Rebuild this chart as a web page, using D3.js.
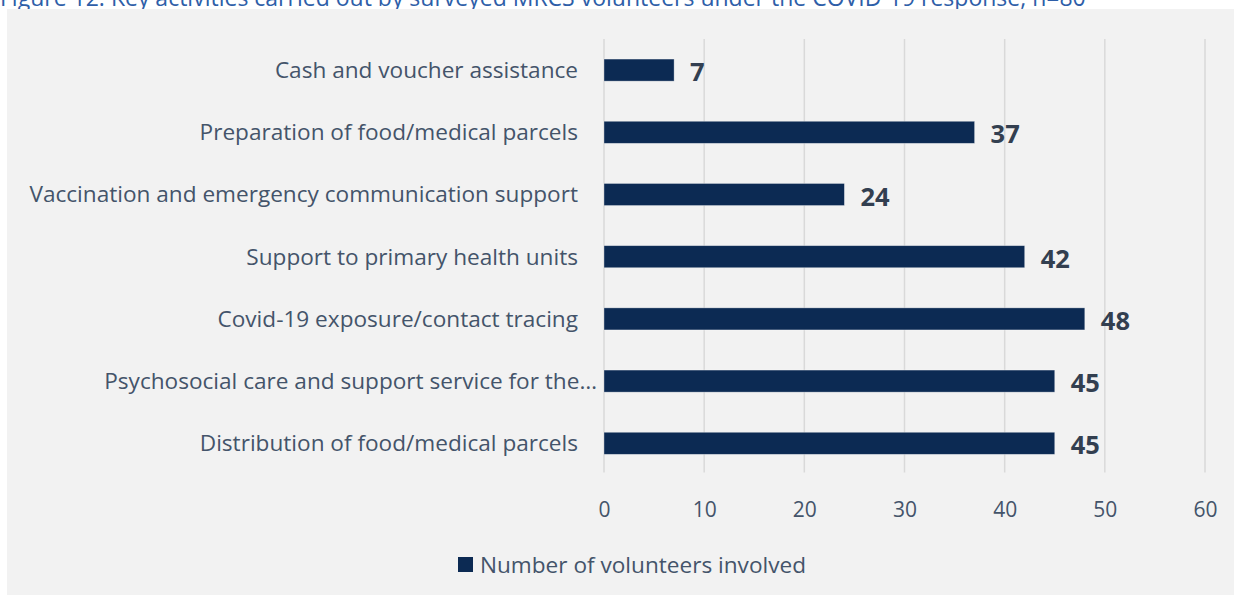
<!DOCTYPE html>
<html>
<head>
<meta charset="utf-8">
<script src="https://cdn.jsdelivr.net/npm/d3@7"></script>
<style>
  html, body { margin: 0; padding: 0; background: #ffffff; }
  svg { display: block; }
  text { font-family: "Open Sans", "Noto Sans", sans-serif; }
</style>
</head>
<body>
<svg id="chart" width="1234" height="595"></svg>
<script>
// Activities, listed top to bottom
const categories = [
  "Cash and voucher assistance",
  "Preparation of food/medical parcels",
  "Vaccination and emergency communication support",
  "Support to primary health units",
  "Covid-19 exposure/contact tracing",
  "Psychosocial care and support service for the…",
  "Distribution of food/medical parcels"
];
// Number of volunteers involved in each activity
const volunteers = [7, 37, 24, 42, 48, 45, 45];
const xTicks = [0, 10, 20, 30, 40, 50, 60];
const seriesName = "Number of volunteers involved";
const titleText = "Figure 12: Key activities carried out by surveyed MRCS volunteers under the COVID-19 response, n=80";

const W = 1234, H = 595;
const plot = { left: 604, right: 1205, top: 39, bottom: 474.4 };
const barColor = "#0c2a53";
const textColor = "#44546a";
const valueColor = "#333f50";
const gridColor = "#d9d9d9";

const svg = d3.select("#chart");

// Caption above the chart panel
svg.append("text")
  .attr("x", 0).attr("y", 6)
  .attr("fill", "#2e5ea8")
  .attr("font-size", 23)
  .text(titleText);

// Chart panel
svg.append("rect")
  .attr("x", 7).attr("y", 9)
  .attr("width", W - 7).attr("height", H - 9)
  .attr("fill", "#f2f2f2");

const x = d3.scaleLinear().domain([0, 60]).range([plot.left, plot.right]);
const y = d3.scaleBand().domain(categories)
  .range([plot.top, plot.bottom])
  .paddingInner(0.645).paddingOuter(0.3225);

// Vertical gridlines
svg.append("g").selectAll("line").data(xTicks).join("line")
  .attr("x1", d => x(d)).attr("x2", d => x(d))
  .attr("y1", plot.top).attr("y2", plot.bottom - 2)
  .attr("stroke", gridColor).attr("stroke-width", 1.5);

// X axis tick labels (no axis line)
const xAxis = d3.axisBottom(x).tickValues(xTicks).tickSize(0).tickPadding(0);
const gx = svg.append("g").attr("transform", `translate(0, ${plot.bottom + 28})`).call(xAxis);
gx.select(".domain").remove();
gx.selectAll("text")
  .attr("fill", textColor)
  .attr("font-size", 21)
  .attr("font-family", "Open Sans, Noto Sans, sans-serif")
  .attr("dy", "0.71em");

// Category labels
svg.append("g").selectAll("text").data(categories).join("text")
  .attr("x", d => d.endsWith("…") ? plot.left - 7 : plot.left - 26)
  .attr("y", d => y(d) + y.bandwidth() / 2)
  .attr("dy", "0.35em")
  .attr("text-anchor", "end")
  .attr("fill", textColor)
  .attr("font-size", 22.6)
  .text(d => d);

// Bars
svg.append("g").selectAll("rect").data(categories).join("rect")
  .attr("x", x(0))
  .attr("y", d => y(d))
  .attr("width", (d, i) => x(volunteers[i]) - x(0))
  .attr("height", y.bandwidth())
  .attr("fill", barColor)
  .attr("stroke", "#ffffff").attr("stroke-opacity", 0.45).attr("stroke-width", 0.75);

// Value labels
svg.append("g").selectAll("text").data(categories).join("text")
  .attr("x", (d, i) => x(volunteers[i]) + 16)
  .attr("y", d => y(d) + y.bandwidth())
  .attr("fill", valueColor)
  .attr("font-size", 25.5)
  .attr("font-weight", "bold")
  .text((d, i) => volunteers[i]);

// Legend
const legend = svg.append("g");
legend.append("rect")
  .attr("x", 458).attr("y", 557)
  .attr("width", 15).attr("height", 15)
  .attr("fill", barColor);
legend.append("text")
  .attr("x", 480).attr("y", 572.5)
  .attr("fill", textColor)
  .attr("font-size", 22.6)
  .text(seriesName);
</script>
</body>
</html>
